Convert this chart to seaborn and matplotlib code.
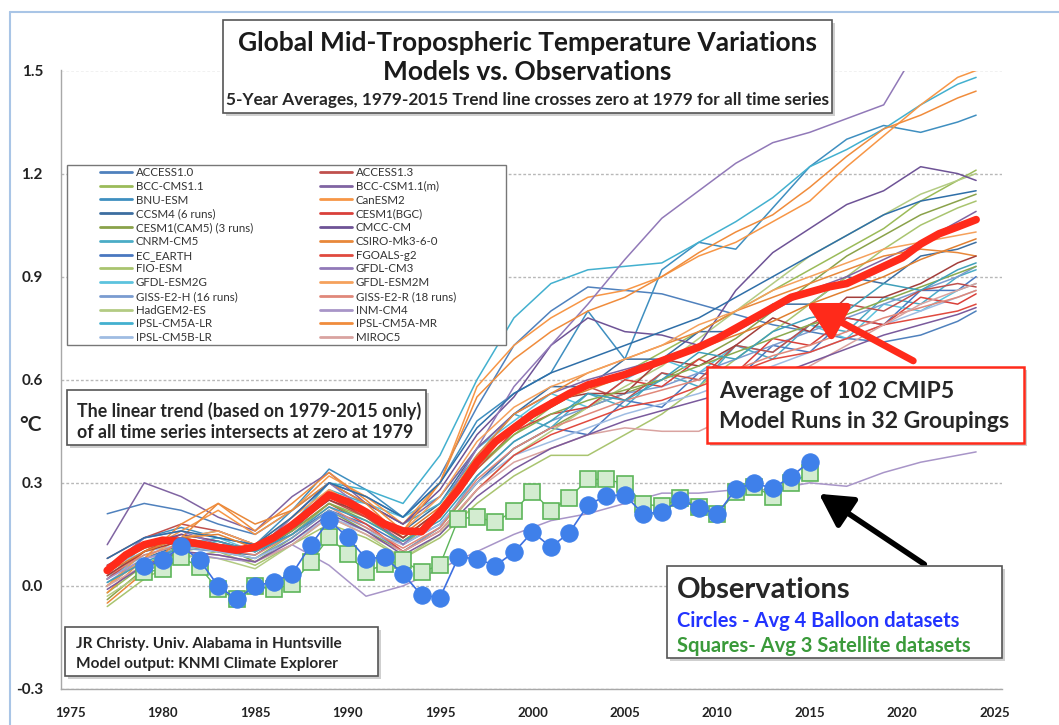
import matplotlib
matplotlib.use("Agg")
import matplotlib.pyplot as plt
from matplotlib.patches import Rectangle
from matplotlib.lines import Line2D
import pandas as pd
import seaborn as sns

# -----------------------------
# DATA
# -----------------------------
model_years = [1977, 1979, 1981, 1983, 1985, 1987, 1989, 1991, 1993, 1995, 1997, 1999,
               2001, 2003, 2005, 2007, 2009, 2011, 2013, 2015, 2017, 2019, 2021, 2023, 2024]

access10 = [0.21, 0.24, 0.22, 0.18, 0.15, 0.22, 0.30, 0.26, 0.20, 0.32, 0.52, 0.70, 0.80, 0.87, 0.86, 0.85, 0.82, 0.79, 0.76, 0.74, 0.72, 0.71, 0.73, 0.77, 0.80]
access13 = [0.08, 0.14, 0.18, 0.16, 0.12, 0.18, 0.25, 0.20, 0.14, 0.22, 0.36, 0.46, 0.52, 0.58, 0.54, 0.62, 0.60, 0.70, 0.68, 0.76, 0.82, 0.80, 0.86, 0.88, 0.87]
bcc_cms11 = [-0.02, 0.06, 0.12, 0.10, 0.08, 0.15, 0.24, 0.20, 0.12, 0.20, 0.34, 0.44, 0.52, 0.58, 0.62, 0.68, 0.74, 0.80, 0.86, 0.92, 0.98, 1.04, 1.12, 1.18, 1.21]
bcc_csm11m = [0.12, 0.30, 0.26, 0.20, 0.16, 0.26, 0.33, 0.24, 0.18, 0.26, 0.40, 0.50, 0.56, 0.60, 0.63, 0.66, 0.70, 0.74, 0.80, 0.86, 0.90, 0.95, 1.00, 1.06, 1.09]
bnu_esm = [0.05, 0.14, 0.17, 0.14, 0.12, 0.22, 0.34, 0.28, 0.20, 0.30, 0.48, 0.56, 0.62, 0.80, 0.66, 0.92, 1.00, 0.98, 1.10, 1.22, 1.30, 1.34, 1.32, 1.35, 1.37]
canesm2 = [0.00, 0.10, 0.16, 0.22, 0.15, 0.22, 0.32, 0.26, 0.18, 0.30, 0.58, 0.70, 0.78, 0.84, 0.86, 0.90, 0.96, 1.00, 1.06, 1.12, 1.22, 1.31, 1.40, 1.48, 1.50]
ccsm4 = [0.00, 0.08, 0.12, 0.10, 0.09, 0.16, 0.26, 0.22, 0.16, 0.24, 0.40, 0.50, 0.58, 0.58, 0.66, 0.66, 0.74, 0.74, 0.82, 0.82, 0.90, 0.88, 0.96, 0.98, 1.00]
cesm1_bgc = [0.02, 0.10, 0.15, 0.13, 0.10, 0.17, 0.26, 0.20, 0.13, 0.20, 0.34, 0.45, 0.50, 0.52, 0.60, 0.58, 0.66, 0.62, 0.72, 0.70, 0.78, 0.76, 0.84, 0.82, 0.85]
cesm1_cam5 = [-0.04, 0.05, 0.10, 0.12, 0.07, 0.14, 0.22, 0.16, 0.10, 0.17, 0.30, 0.40, 0.46, 0.52, 0.56, 0.60, 0.66, 0.72, 0.80, 0.88, 0.96, 1.02, 1.08, 1.12, 1.14]
cmcc_cm = [0.06, 0.12, 0.15, 0.13, 0.10, 0.20, 0.30, 0.24, 0.18, 0.28, 0.44, 0.55, 0.70, 0.78, 0.74, 0.73, 0.70, 0.86, 0.97, 1.04, 1.11, 1.15, 1.22, 1.20, 1.18]
cnrm_cm5 = [0.03, 0.10, 0.14, 0.16, 0.12, 0.18, 0.28, 0.24, 0.18, 0.24, 0.38, 0.50, 0.46, 0.56, 0.52, 0.62, 0.58, 0.70, 0.66, 0.76, 0.74, 0.84, 0.82, 0.90, 0.92]
csiro = [-0.05, 0.04, 0.14, 0.24, 0.18, 0.22, 0.30, 0.24, 0.14, 0.22, 0.38, 0.50, 0.56, 0.62, 0.66, 0.70, 0.74, 0.80, 0.84, 0.88, 0.92, 0.96, 0.98, 0.97, 0.96]
ec_earth = [0.04, 0.12, 0.13, 0.11, 0.10, 0.15, 0.22, 0.18, 0.12, 0.18, 0.30, 0.40, 0.46, 0.44, 0.54, 0.52, 0.62, 0.60, 0.70, 0.68, 0.78, 0.76, 0.86, 0.86, 0.90]
fgoals_g2 = [0.06, 0.11, 0.14, 0.12, 0.11, 0.16, 0.24, 0.18, 0.10, 0.16, 0.28, 0.38, 0.44, 0.48, 0.52, 0.54, 0.58, 0.62, 0.66, 0.68, 0.72, 0.76, 0.78, 0.80, 0.82]
fio_esm = [-0.06, 0.02, 0.08, 0.10, 0.06, 0.12, 0.18, 0.14, 0.08, 0.14, 0.24, 0.32, 0.38, 0.38, 0.44, 0.50, 0.58, 0.66, 0.74, 0.82, 0.90, 0.98, 1.05, 1.10, 1.12]
gfdl_cm3 = [0.05, 0.14, 0.16, 0.12, 0.10, 0.20, 0.30, 0.22, 0.12, 0.22, 0.40, 0.58, 0.70, 0.82, 0.95, 1.07, 1.15, 1.23, 1.29, 1.32, 1.36, 1.40, 1.58, 1.70, 1.75]
gfdl_esm2g = [0.02, 0.09, 0.12, 0.14, 0.10, 0.17, 0.26, 0.24, 0.20, 0.26, 0.40, 0.48, 0.56, 0.52, 0.60, 0.66, 0.62, 0.70, 0.68, 0.76, 0.72, 0.82, 0.80, 0.86, 0.88]
gfdl_esm2m = [0.00, 0.08, 0.14, 0.16, 0.12, 0.20, 0.28, 0.22, 0.16, 0.26, 0.42, 0.52, 0.58, 0.62, 0.66, 0.70, 0.76, 0.80, 0.86, 0.90, 0.94, 0.98, 1.00, 1.02, 1.03]
giss_e2h = [0.01, 0.08, 0.11, 0.10, 0.08, 0.14, 0.22, 0.17, 0.10, 0.17, 0.32, 0.42, 0.48, 0.52, 0.56, 0.58, 0.62, 0.66, 0.70, 0.74, 0.78, 0.82, 0.86, 0.90, 0.93]
giss_e2r = [0.03, 0.09, 0.12, 0.11, 0.09, 0.15, 0.23, 0.17, 0.11, 0.17, 0.31, 0.40, 0.46, 0.50, 0.54, 0.57, 0.60, 0.63, 0.67, 0.70, 0.74, 0.78, 0.81, 0.84, 0.86]
hadgem2_es = [-0.03, 0.04, 0.09, 0.08, 0.05, 0.12, 0.20, 0.15, 0.08, 0.15, 0.28, 0.38, 0.45, 0.52, 0.58, 0.64, 0.72, 0.80, 0.88, 0.96, 1.02, 1.08, 1.14, 1.18, 1.20]
inm_cm4 = [0.02, 0.08, 0.10, 0.08, 0.07, 0.12, 0.06, -0.03, 0.00, 0.05, 0.10, 0.15, 0.19, 0.21, 0.24, 0.27, 0.27, 0.28, 0.28, 0.30, 0.29, 0.33, 0.36, 0.38, 0.39]
ipsl_cm5a_lr = [0.02, 0.12, 0.14, 0.12, 0.10, 0.18, 0.30, 0.28, 0.24, 0.38, 0.60, 0.78, 0.88, 0.92, 0.93, 0.94, 1.00, 1.06, 1.13, 1.22, 1.27, 1.33, 1.40, 1.46, 1.48]
ipsl_cm5a_mr = [-0.02, 0.08, 0.18, 0.24, 0.16, 0.24, 0.33, 0.25, 0.16, 0.30, 0.55, 0.66, 0.74, 0.80, 0.84, 0.90, 0.97, 1.03, 1.08, 1.16, 1.25, 1.33, 1.37, 1.42, 1.44]
ipsl_cm5b_lr = [0.05, 0.10, 0.12, 0.10, 0.08, 0.13, 0.20, 0.16, 0.12, 0.18, 0.30, 0.38, 0.42, 0.46, 0.50, 0.53, 0.56, 0.60, 0.64, 0.68, 0.72, 0.76, 0.80, 0.84, 0.86]
miroc5 = [0.00, 0.06, 0.10, 0.09, 0.07, 0.12, 0.20, 0.15, 0.10, 0.16, 0.28, 0.36, 0.40, 0.44, 0.46, 0.45, 0.45, 0.50, 0.58, 0.64, 0.70, 0.76, 0.82, 0.86, 0.88]
miroc_esm = [0.08, 0.14, 0.16, 0.14, 0.12, 0.20, 0.30, 0.26, 0.20, 0.30, 0.46, 0.56, 0.62, 0.66, 0.70, 0.74, 0.78, 0.84, 0.90, 0.96, 1.02, 1.08, 1.12, 1.14, 1.15]
mpi_esm_lr = [0.03, 0.10, 0.13, 0.12, 0.11, 0.17, 0.25, 0.21, 0.14, 0.22, 0.36, 0.46, 0.54, 0.56, 0.56, 0.66, 0.64, 0.70, 0.78, 0.74, 0.84, 0.84, 0.88, 0.94, 0.96]
mpi_esm_mr = [0.05, 0.11, 0.14, 0.12, 0.10, 0.16, 0.24, 0.19, 0.13, 0.21, 0.35, 0.44, 0.50, 0.54, 0.57, 0.60, 0.64, 0.68, 0.72, 0.76, 0.79, 0.83, 0.87, 0.91, 0.93]
mri_cgcm3 = [-0.01, 0.06, 0.10, 0.09, 0.07, 0.13, 0.21, 0.16, 0.09, 0.15, 0.26, 0.34, 0.40, 0.44, 0.48, 0.51, 0.54, 0.57, 0.61, 0.65, 0.69, 0.73, 0.76, 0.79, 0.81]
noresm1_m = [0.01, 0.07, 0.11, 0.13, 0.10, 0.15, 0.23, 0.19, 0.13, 0.19, 0.32, 0.42, 0.48, 0.56, 0.54, 0.60, 0.68, 0.66, 0.74, 0.78, 0.80, 0.88, 0.86, 0.92, 0.94]
noresm1_me = [0.04, 0.10, 0.14, 0.15, 0.11, 0.18, 0.27, 0.22, 0.15, 0.23, 0.37, 0.47, 0.53, 0.57, 0.61, 0.65, 0.69, 0.73, 0.77, 0.82, 0.86, 0.90, 0.95, 0.99, 1.01]

# legend columns (as laid out in the original legend box)
legend_left = ["ACCESS1.0", "BCC-CMS1.1", "BNU-ESM", "CCSM4 (6 runs)", "CESM1(CAM5) (3 runs)",
               "CNRM-CM5", "EC_EARTH", "FIO-ESM", "GFDL-ESM2G", "GISS-E2-H (16 runs)",
               "HadGEM2-ES", "IPSL-CM5A-LR", "IPSL-CM5B-LR"]
legend_right = ["ACCESS1.3", "BCC-CSM1.1(m)", "CanESM2", "CESM1(BGC)", "CMCC-CM",
                "CSIRO-Mk3-6-0", "FGOALS-g2", "GFDL-CM3", "GFDL-ESM2M", "GISS-E2-R (18 runs)",
                "INM-CM4", "IPSL-CM5A-MR", "MIROC5"]
extra_models = ["MIROC-ESM", "MPI-ESM-LR", "MPI-ESM-MR", "MRI-CGCM3", "NorESM1-M", "NorESM1-ME"]

left_colors = ["#4F81BD", "#9BBB59", "#3F8FC0", "#3C6EA0", "#8AA24A", "#4BACC6", "#4A78C0",
               "#A9C46F", "#5CC3DE", "#7A9CD0", "#B3CB83", "#43B0CF", "#9FBCE2"]
right_colors = ["#C0504D", "#8064A2", "#F79646", "#D9403A", "#6E5396", "#E8883A", "#E04A3F",
                "#9179B8", "#F5A15C", "#E0887A", "#A895C8", "#F08C3C", "#D9A3A0"]
extra_colors = ["#2F6FA8", "#A33E3B", "#8AAA4E", "#7A5A9C", "#3FA0BA", "#E07F30"]

left_series = [access10, bcc_cms11, bnu_esm, ccsm4, cesm1_cam5, cnrm_cm5, ec_earth,
               fio_esm, gfdl_esm2g, giss_e2h, hadgem2_es, ipsl_cm5a_lr, ipsl_cm5b_lr]
right_series = [access13, bcc_csm11m, canesm2, cesm1_bgc, cmcc_cm, csiro, fgoals_g2,
                gfdl_cm3, gfdl_esm2m, giss_e2r, inm_cm4, ipsl_cm5a_mr, miroc5]
extra_series = [miroc_esm, mpi_esm_lr, mpi_esm_mr, mri_cgcm3, noresm1_m, noresm1_me]

# average of 102 model runs (yearly)
avg_years = list(range(1977, 2025))
avg_102 = [0.045, 0.09, 0.12, 0.133, 0.13, 0.122, 0.112, 0.104, 0.113, 0.14, 0.177, 0.22,
           0.265, 0.245, 0.215, 0.18, 0.16, 0.158, 0.215, 0.28, 0.36, 0.42, 0.46, 0.50,
           0.53, 0.56, 0.585, 0.60, 0.615, 0.635, 0.655, 0.675, 0.695, 0.72, 0.75, 0.78,
           0.81, 0.84, 0.855, 0.87, 0.88, 0.905, 0.93, 0.955, 0.995, 1.025, 1.045, 1.066]

# observations (yearly 1979-2015)
obs_years = list(range(1979, 2016))
balloon = [0.057, 0.074, 0.116, 0.075, 0.0, -0.039, 0.0, 0.012, 0.035, 0.118, 0.191, 0.142,
           0.079, 0.084, 0.035, -0.027, -0.034, 0.084, 0.079, 0.059, 0.098, 0.157, 0.113,
           0.155, 0.235, 0.263, 0.264, 0.209, 0.216, 0.25, 0.227, 0.209, 0.282, 0.299,
           0.284, 0.318, 0.362]
satellite = [0.04, 0.048, 0.084, 0.054, -0.01, -0.039, 0.0, -0.01, 0.005, 0.069, 0.142, 0.093,
             0.04, 0.064, 0.074, 0.04, 0.061, 0.196, 0.2, 0.186, 0.219, 0.274, 0.219, 0.257,
             0.31, 0.31, 0.297, 0.238, 0.232, 0.255, 0.23, 0.21, 0.274, 0.289, 0.26, 0.3,
             0.328]

y_ticks = [-0.3, 0.0, 0.3, 0.6, 0.9, 1.2, 1.5]
y_ticklabels = ["-0.3", "0.0", "0.3", "0.6", "0.9", "1.2", "1.5"]
x_ticks = [1975, 1980, 1985, 1990, 1995, 2000, 2005, 2010, 2015, 2020, 2025]

# -----------------------------
# STYLE
# -----------------------------
sns.set_style("white")
plt.rcParams['font.family'] = ['Lato', 'DejaVu Sans']

W, H = 1059, 725


def fx(x):
    return x / W


def fy(y):
    return 1 - y / H


fig = plt.figure(figsize=(W / 100, H / 100), dpi=100)
ax = fig.add_axes([fx(61), fy(689), (1002 - 61) / W, (689 - 70.5) / H])

# -----------------------------
# MODEL LINES
# -----------------------------
names = legend_left + legend_right + extra_models
series = left_series + right_series + extra_series
colors = left_colors + right_colors + extra_colors
palette = dict(zip(names, colors))

frames = [pd.DataFrame({"year": model_years, "anomaly": vals, "model": name})
          for name, vals in zip(names, series)]
models_df = pd.concat(frames, ignore_index=True)

sns.lineplot(data=models_df, x="year", y="anomaly", hue="model", hue_order=names,
             palette=palette, lw=1.1, legend=False, estimator=None, ax=ax, zorder=2)

sns.lineplot(x=avg_years, y=avg_102, color="#ff2a1a", lw=5.5, ax=ax, zorder=4,
             solid_capstyle="round")

sns.lineplot(x=obs_years, y=satellite, color="#5db55a", lw=1.0, marker="s", markersize=11,
             markerfacecolor="#d3ecd0", markeredgecolor="#5db55a", markeredgewidth=1.2,
             ax=ax, zorder=5)
sns.lineplot(x=obs_years, y=balloon, color="#3d6fe0", lw=1.2, marker="o", markersize=12.5,
             markerfacecolor="#3f80ea", markeredgecolor="#3f80ea", ax=ax, zorder=6)

# -----------------------------
# AXES
# -----------------------------
ax.set_xlim(1974.5, 2025.4)
ax.set_ylim(-0.3, 1.5)
ax.set_xticks(x_ticks)
ax.set_xticks(range(1975, 2026), minor=True)
ax.set_yticks(y_ticks)
ax.set_yticklabels(y_ticklabels)
ax.set_xlabel("")
ax.set_ylabel("")
ax.yaxis.grid(True, linestyle=(0, (2, 1.5)), color="#b8b8b8", lw=1)
ax.xaxis.grid(False)
for s in ["top", "right"]:
    ax.spines[s].set_visible(False)
for s in ["left", "bottom"]:
    ax.spines[s].set_color("#a8a8a8")
    ax.spines[s].set_linewidth(1)
ax.tick_params(axis="y", length=5, color="#a8a8a8", labelsize=11, pad=8)
ax.tick_params(axis="x", which="both", length=4, color="#a8a8a8", labelsize=9.5, pad=9)
for lbl in ax.get_yticklabels() + ax.get_xticklabels():
    lbl.set_fontweight("bold")
    lbl.set_color("#222222")

fig.text(fx(30), fy(425), "°C", fontsize=15, fontweight="bold", ha="center", va="center")

# chart area border (light blue)
fig.add_artist(Line2D([fx(10), fx(10)], [fy(12), 0], color="#a9c5e6", lw=1.5))
fig.add_artist(Line2D([fx(10), 1], [fy(12), fy(12)], color="#a9c5e6", lw=1.5))


def box(x0, y0, x1, y1, edge="#555555", lw=1.2, shadow=True):
    if shadow:
        fig.add_artist(Rectangle((fx(x0 + 3), fy(y1 + 3)), (x1 - x0) / W, (y1 - y0) / H,
                                 transform=fig.transFigure, facecolor="#cfcfcf",
                                 edgecolor="none", zorder=5))
    fig.add_artist(Rectangle((fx(x0), fy(y1)), (x1 - x0) / W, (y1 - y0) / H,
                             transform=fig.transFigure, facecolor="white",
                             edgecolor=edge, lw=lw, zorder=6))


# title box
box(223, 20, 832, 113)
fig.text(fx(527), fy(43), "Global Mid-Tropospheric Temperature Variations", fontsize=19,
         fontweight="bold", ha="center", va="center", zorder=7, color="#1a1a1a")
fig.text(fx(527), fy(72), "Models vs. Observations", fontsize=19, fontweight="bold",
         ha="center", va="center", zorder=7, color="#1a1a1a")
fig.text(fx(527), fy(100), "5-Year Averages, 1979-2015 Trend line crosses zero at 1979 for all time series",
         fontsize=12.4, fontweight="bold", ha="center", va="center", zorder=7)

# legend box
box(67, 165, 506, 345, edge="#777777", lw=1.0, shadow=False)
handles_l = [Line2D([], [], color=c, lw=2) for c in left_colors]
handles_r = [Line2D([], [], color=c, lw=2) for c in right_colors]
leg_kw = dict(loc="upper left", frameon=False, fontsize=8.3, handlelength=2.8,
              handletextpad=0.3, labelspacing=0.24, borderpad=0, borderaxespad=0,
              bbox_transform=fig.transFigure)
leg1 = fig.legend(handles_l, legend_left, bbox_to_anchor=(fx(100), fy(167)), **leg_kw)
leg2 = fig.legend(handles_r, legend_right, bbox_to_anchor=(fx(320), fy(167)), **leg_kw)
for leg in (leg1, leg2):
    leg.set_zorder(8)
    for t in leg.get_texts():
        t.set_color("#333333")

# trend note
box(67, 390, 426, 445)
fig.text(fx(77), fy(411), "The linear trend (based on 1979-2015 only)", fontsize=12.8,
         fontweight="bold", ha="left", va="center", zorder=7)
fig.text(fx(77), fy(433), "of all time series intersects at zero at 1979", fontsize=12.8,
         fontweight="bold", ha="left", va="center", zorder=7)

# credits
box(65, 627, 378, 676)
fig.text(fx(76), fy(644), "JR Christy. Univ. Alabama in Huntsville", fontsize=11.1,
         fontweight="bold", ha="left", va="center", zorder=7)
fig.text(fx(76), fy(664), "Model output: KNMI Climate Explorer", fontsize=11.1,
         fontweight="bold", ha="left", va="center", zorder=7)

# average annotation
box(707, 367, 1024, 443, edge="#ff2a1a", lw=1.8)
fig.text(fx(719), fy(392), "Average of 102 CMIP5", fontsize=16.6, fontweight="bold",
         ha="left", va="center", zorder=7)
fig.text(fx(719), fy(422), "Model Runs in 32 Groupings", fontsize=16.6, fontweight="bold",
         ha="left", va="center", zorder=7)

# observations annotation
box(667, 566, 1002, 658)
fig.text(fx(677), fy(590), "Observations", fontsize=21, fontweight="bold",
         ha="left", va="center", zorder=7)
fig.text(fx(677), fy(621), "Circles - Avg 4 Balloon datasets", fontsize=14.5,
         fontweight="bold", color="#2233ff", ha="left", va="center", zorder=7)
fig.text(fx(677), fy(646), "Squares- Avg 3 Satellite datasets", fontsize=14.5,
         fontweight="bold", color="#3a9a3a", ha="left", va="center", zorder=7)

# arrows
ax.annotate("", xy=(2014.8, 0.823), xytext=(2020.6, 0.655),
            arrowprops=dict(arrowstyle="-|>,head_length=1.1,head_width=0.6",
                            color="#ff2a1a", lw=5, mutation_scale=20,
                            shrinkA=0, shrinkB=0), zorder=7)
ax.annotate("", xy=(2015.5, 0.268), xytext=(2021.2, 0.063),
            arrowprops=dict(arrowstyle="-|>,head_length=1.0,head_width=0.55",
                            color="black", lw=4, mutation_scale=20,
                            shrinkA=0, shrinkB=0), zorder=7)

fig.savefig("out.png", dpi=100)
